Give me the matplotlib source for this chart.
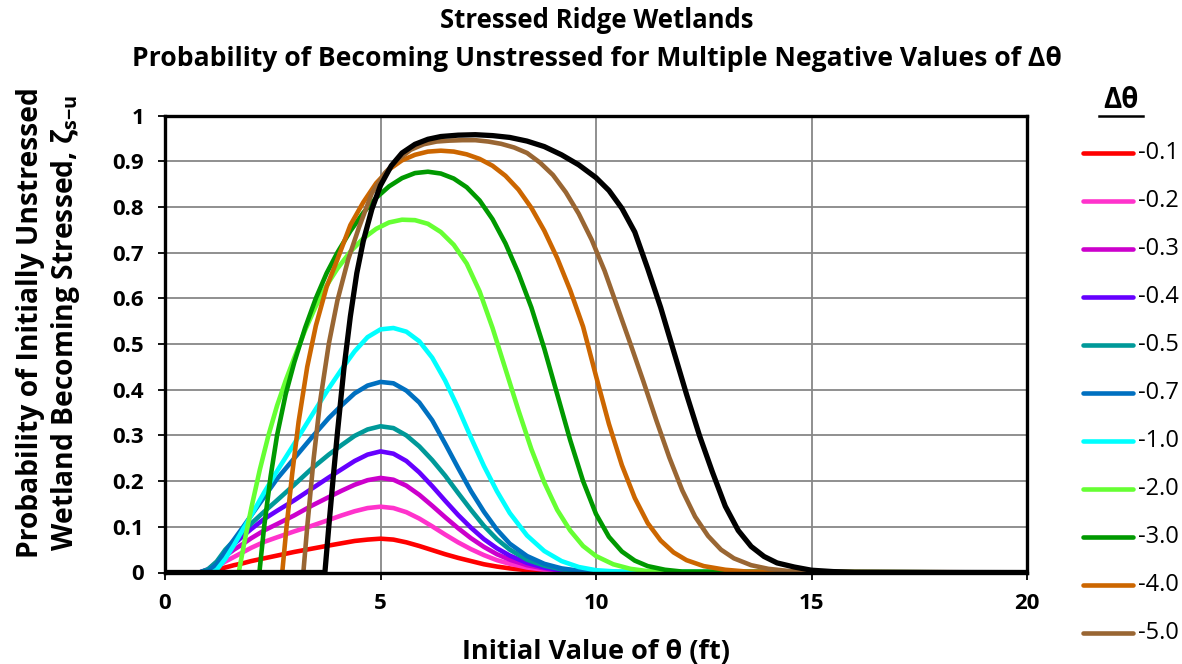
import matplotlib
matplotlib.use("Agg")
import matplotlib.pyplot as plt
from matplotlib.lines import Line2D

plt.rcParams['font.family'] = ['Open Sans', 'DejaVu Sans']
plt.rcParams['mathtext.fontset'] = 'custom'
plt.rcParams['mathtext.rm'] = 'Open Sans:bold'
plt.rcParams['mathtext.it'] = 'Open Sans:bold'
plt.rcParams['mathtext.bf'] = 'Open Sans:bold'

# ---- data -------------------------------------------------------------
labels = ['-0.1', '-0.2', '-0.3', '-0.4', '-0.5', '-0.7', '-1.0',
          '-2.0', '-3.0', '-4.0', '-5.0', '']
colors = ['#FF0000', '#FF33CC', '#CC00CC', '#6600FF', '#009999', '#0070C0',
          '#00FFFF', '#66FF33', '#009900', '#CC6600', '#996633', '#000000']

x_small = [0, 0.8, 1.0, 1.2, 1.4, 1.6, 1.8, 2.0, 2.3, 2.6, 3.0, 3.4, 3.8, 4.1,
           4.4, 4.7, 5.0, 5.3, 5.6, 5.9, 6.2, 6.5, 6.8, 7.1, 7.4, 7.7, 8.0,
           8.4, 8.8, 9.2, 9.6, 10.0, 20]
y_01 = [0, 0, 0.002, 0.006, 0.011, 0.016, 0.020, 0.025, 0.031, 0.037, 0.045,
        0.052, 0.059, 0.064, 0.069, 0.072, 0.074, 0.072, 0.066, 0.058, 0.049,
        0.040, 0.032, 0.025, 0.018, 0.013, 0.009, 0.005, 0.003, 0.001, 0.0005,
        0, 0]
y_02 = [0, 0, 0.004, 0.012, 0.024, 0.034, 0.044, 0.054, 0.067, 0.077, 0.090,
        0.102, 0.115, 0.125, 0.134, 0.141, 0.144, 0.141, 0.132, 0.118, 0.101,
        0.083, 0.066, 0.051, 0.038, 0.027, 0.019, 0.011, 0.006, 0.003, 0.001,
        0, 0]
y_03 = [0, 0, 0.006, 0.018, 0.036, 0.050, 0.062, 0.075, 0.092, 0.106, 0.125,
        0.146, 0.165, 0.179, 0.192, 0.202, 0.207, 0.203, 0.190, 0.170, 0.146,
        0.121, 0.097, 0.075, 0.056, 0.040, 0.028, 0.016, 0.009, 0.004, 0.002,
        0, 0]
y_04 = [0, 0, 0.007, 0.022, 0.044, 0.062, 0.079, 0.095, 0.117, 0.135, 0.158,
        0.183, 0.208, 0.226, 0.244, 0.258, 0.265, 0.260, 0.244, 0.219, 0.189,
        0.157, 0.126, 0.098, 0.073, 0.053, 0.037, 0.021, 0.011, 0.005, 0.002,
        0, 0]
y_05 = [0, 0, 0.007, 0.024, 0.050, 0.070, 0.089, 0.107, 0.133, 0.158, 0.192,
        0.227, 0.258, 0.279, 0.299, 0.313, 0.320, 0.316, 0.300, 0.276, 0.246,
        0.212, 0.174, 0.137, 0.102, 0.073, 0.050, 0.028, 0.015, 0.007, 0.003,
        0.001, 0]
y_07 = [0, 0, 0.003, 0.018, 0.045, 0.072, 0.098, 0.125, 0.165, 0.205, 0.250,
        0.295, 0.338, 0.366, 0.392, 0.409, 0.417, 0.414, 0.398, 0.372, 0.333,
        0.282, 0.229, 0.178, 0.133, 0.094, 0.063, 0.036, 0.019, 0.009, 0.004,
        0.001, 0]

x_10 = [0, 1.1, 1.2, 1.4, 1.6, 1.8, 2.0, 2.3, 2.6, 3.0, 3.4, 3.8, 4.1, 4.4,
        4.7, 5.0, 5.3, 5.6, 5.9, 6.2, 6.5, 6.8, 7.1, 7.4, 7.7, 8.0, 8.4, 8.8,
        9.2, 9.6, 10.0, 10.5, 20]
y_10 = [0, 0, 0.006, 0.030, 0.060, 0.093, 0.125, 0.175, 0.222, 0.282, 0.343,
        0.403, 0.445, 0.484, 0.515, 0.532, 0.535, 0.527, 0.506, 0.470, 0.420,
        0.360, 0.295, 0.233, 0.178, 0.130, 0.081, 0.047, 0.025, 0.012, 0.005,
        0.002, 0]

x_20 = [0, 1.71, 1.85, 2.0, 2.2, 2.4, 2.6, 2.8, 3.0, 3.25, 3.5, 3.75, 4.0,
        4.3, 4.6, 4.9, 5.2, 5.5, 5.8, 6.1, 6.4, 6.7, 7.0, 7.3, 7.6, 7.9, 8.2,
        8.5, 8.8, 9.1, 9.4, 9.7, 10.0, 10.4, 10.8, 11.2, 11.6, 20]
y_20 = [0, 0, 0.07, 0.14, 0.225, 0.30, 0.365, 0.42, 0.47, 0.53, 0.583, 0.628,
        0.665, 0.702, 0.731, 0.752, 0.766, 0.772, 0.771, 0.763, 0.745, 0.717,
        0.676, 0.615, 0.535, 0.445, 0.355, 0.27, 0.197, 0.137, 0.092, 0.058,
        0.036, 0.018, 0.008, 0.003, 0.001, 0]

x_30 = [0, 2.19, 2.3, 2.45, 2.6, 2.8, 3.0, 3.25, 3.5, 3.75, 4.0, 4.3, 4.6,
        4.9, 5.2, 5.5, 5.8, 6.1, 6.4, 6.7, 7.0, 7.3, 7.6, 7.9, 8.2, 8.5, 8.8,
        9.1, 9.4, 9.7, 10.0, 10.3, 10.6, 10.9, 11.2, 11.6, 12.0, 20]
y_30 = [0, 0, 0.10, 0.21, 0.30, 0.39, 0.46, 0.535, 0.60, 0.655, 0.70, 0.747,
        0.787, 0.820, 0.845, 0.863, 0.874, 0.877, 0.873, 0.862, 0.843, 0.814,
        0.773, 0.720, 0.655, 0.58, 0.49, 0.39, 0.29, 0.20, 0.128, 0.078,
        0.046, 0.026, 0.014, 0.006, 0.002, 0]

x_40 = [0, 2.72, 2.82, 2.95, 3.1, 3.3, 3.5, 3.75, 4.0, 4.3, 4.6, 4.9, 5.2,
        5.5, 5.8, 6.1, 6.4, 6.7, 7.0, 7.3, 7.6, 7.9, 8.2, 8.5, 8.8, 9.1, 9.4,
        9.7, 10.0, 10.3, 10.6, 10.9, 11.2, 11.5, 11.8, 12.1, 12.5, 13.0, 13.5,
        20]
y_40 = [0, 0, 0.10, 0.215, 0.33, 0.45, 0.54, 0.625, 0.685, 0.76, 0.81, 0.852,
        0.882, 0.902, 0.914, 0.921, 0.923, 0.921, 0.915, 0.905, 0.890, 0.868,
        0.838, 0.798, 0.748, 0.688, 0.618, 0.538, 0.43, 0.325, 0.235, 0.163,
        0.108, 0.070, 0.044, 0.027, 0.014, 0.006, 0.002, 0]

x_50 = [0, 3.21, 3.3, 3.45, 3.6, 3.8, 4.0, 4.25, 4.5, 4.8, 5.1, 5.4, 5.7,
        6.0, 6.3, 6.6, 6.9, 7.2, 7.5, 7.8, 8.1, 8.4, 8.7, 9.0, 9.3, 9.6, 9.9,
        10.2, 10.5, 10.8, 11.1, 11.4, 11.7, 12.0, 12.3, 12.6, 12.9, 13.2,
        13.6, 14.0, 14.5, 15.0, 20]
y_50 = [0, 0, 0.10, 0.25, 0.375, 0.50, 0.595, 0.685, 0.755, 0.83, 0.874,
        0.903, 0.925, 0.937, 0.943, 0.945, 0.946, 0.946, 0.943, 0.938, 0.930,
        0.918, 0.897, 0.87, 0.832, 0.785, 0.728, 0.66, 0.58, 0.50, 0.418,
        0.333, 0.252, 0.180, 0.122, 0.080, 0.050, 0.031, 0.016, 0.008, 0.003,
        0.001, 0]

x_60 = [0, 3.71, 3.8, 3.9, 4.0, 4.15, 4.3, 4.45, 4.6, 4.8, 5.0, 5.25, 5.5,
        5.8, 6.1, 6.4, 6.8, 7.2, 7.6, 8.0, 8.4, 8.8, 9.2, 9.6, 10.0, 10.3,
        10.6, 10.9, 11.2, 11.5, 11.8, 12.1, 12.4, 12.7, 13.0, 13.3, 13.6,
        13.9, 14.2, 14.6, 15.0, 15.5, 16.0, 20]
y_60 = [0, 0, 0.10, 0.205, 0.305, 0.445, 0.56, 0.655, 0.725, 0.795, 0.847,
        0.89, 0.918, 0.937, 0.948, 0.954, 0.957, 0.958, 0.956, 0.952, 0.944,
        0.932, 0.914, 0.892, 0.864, 0.836, 0.797, 0.745, 0.665, 0.58, 0.485,
        0.39, 0.30, 0.22, 0.145, 0.092, 0.057, 0.035, 0.021, 0.012, 0.005,
        0.002, 0.0005, 0]

series_x = [x_small, x_small, x_small, x_small, x_small, x_small, x_10,
            x_20, x_30, x_40, x_50, x_60]
series_y = [y_01, y_02, y_03, y_04, y_05, y_07, y_10, y_20, y_30, y_40,
            y_50, y_60]

x_ticks = [0, 5, 10, 15, 20]
y_ticks = [0, 0.1, 0.2, 0.3, 0.4, 0.5, 0.6, 0.7, 0.8, 0.9, 1.0]

# ---- figure -----------------------------------------------------------
W, H = 1182, 664
fig = plt.figure(figsize=(W / 100, H / 100), dpi=100)
ax = fig.add_axes([165 / W, 1 - 572.5 / H, (1027 - 165) / W, (572.5 - 115.5) / H])

for xs, ys, c in zip(series_x, series_y, colors):
    lw = 3.8 if c == '#000000' else 3.3
    ax.plot(xs, ys, color=c, lw=lw, solid_joinstyle='round',
            solid_capstyle='butt', zorder=3)

ax.set_xlim(0, 20)
ax.set_ylim(0, 1)
ax.set_xticks(x_ticks)
ax.set_yticks(y_ticks)
ax.set_xticklabels([f'{v:g}' for v in x_ticks])
ax.set_yticklabels([f'{v:g}' for v in y_ticks])
ax.grid(True, color='#878787', lw=1.3, zorder=0)
ax.set_axisbelow(True)
for s in ax.spines.values():
    s.set_linewidth(2.4)
    s.set_zorder(4)
ax.tick_params(axis='both', direction='out', length=5, width=1.3,
               labelsize=16, pad=10)
for t in ax.get_xticklabels() + ax.get_yticklabels():
    t.set_fontweight('bold')

ax.set_xlabel('Initial Value of θ (ft)', fontsize=19.5, fontweight='bold',
              labelpad=18)

fig.text(597 / W, 1 - 21 / H, 'Stressed Ridge Wetlands', ha='center',
         va='center', fontsize=18.5, fontweight='bold')
fig.text(597 / W, 1 - 59 / H,
         'Probability of Becoming Unstressed for Multiple Negative Values of Δθ',
         ha='center', va='center', fontsize=19.1, fontweight='bold')

fig.text(49 / W, 1 - 323 / H,
         'Probability of Initially Unstressed\n'
         'Wetland Becoming Stressed, ζ$_{\\mathrm{s{-}u}}$',
         rotation=90, ha='center', va='center', fontsize=20.3,
         fontweight='bold', multialignment='center', linespacing=1.2)

# ---- legend -----------------------------------------------------------
fig.text(1121 / W, 1 - 100 / H, 'Δθ', ha='center', va='center',
         fontsize=20, fontweight='bold')
fig.add_artist(Line2D([1099 / W, 1143 / W], [1 - 116 / H, 1 - 116 / H],
                      transform=fig.transFigure, color='black', lw=1.8))
row0, pitch = 153, 48
for i, (lab, c) in enumerate(zip(labels, colors)):
    if not lab:
        continue
    yy = 1 - (row0 + i * pitch) / H
    fig.add_artist(Line2D([1083 / W, 1133 / W], [yy, yy],
                          transform=fig.transFigure, color=c, lw=3.3,
                          solid_capstyle='round'))
    fig.text(1138 / W, yy, lab, ha='left', va='center', fontsize=17)

fig.savefig('out.png', dpi=100)
